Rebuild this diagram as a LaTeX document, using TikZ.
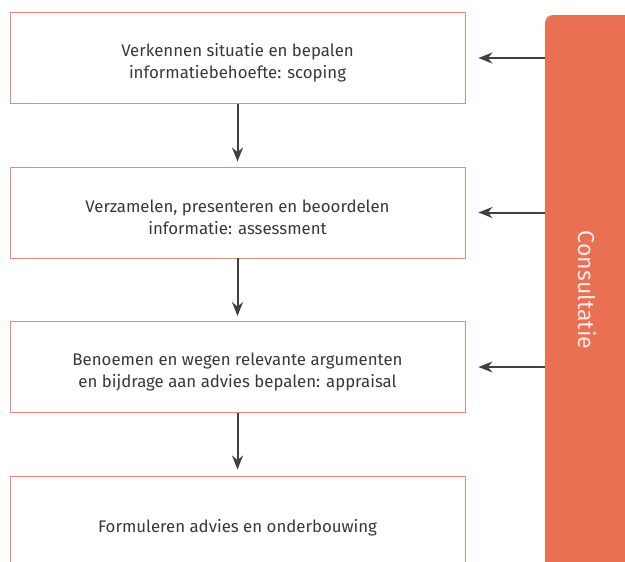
\documentclass[tikz,border=0pt]{standalone}
\usepackage{fontspec}
\setmainfont{Fira Sans}
\usepackage{tikz}
\usetikzlibrary{arrows.meta}
\usetikzlibrary{positioning}
\definecolor{rand}{RGB}{232,140,120}
\definecolor{balkkleur}{RGB}{234,112,84}
\definecolor{pijlkleur}{RGB}{64,64,64}
\tikzset{stap/.style = {draw = rand, line width = 0.9pt, minimum width = 455, minimum height = 91},
  tekst/.style = {align = center, font = \fontsize{16.8}{22}\selectfont, text = black!78, yshift = -5pt},
  pijl/.style = {draw = pijlkleur, line width = 2pt, -{Stealth[length = 14pt, width = 11pt]}}}

\begin{document}
\begin{tikzpicture}[x = 1pt, y = -1pt]
          \useasboundingbox (0, 0) rectangle (625, 562);
          \clip (0, 0) rectangle (625, 562);

          \node [stap] (scoping) at (237.5, 58) {};
          \node [stap] (assess) at (237.5, 212.5) {};
          \node [stap] (apprais) at (237.5, 367) {};
          \node [stap, minimum height = 104] (advies) at (237.5, 528) {};

          \node [tekst] (scoping-t) at (scoping.center) {Verkennen situatie en bepalen\\informatiebehoefte: scoping};
          \node [tekst] (assess-t) at (assess.center) {Verzamelen, presenteren en beoordelen\\informatie: assessment};
          \node [tekst] (apprais-t) at (apprais.center) {Benoemen en wegen relevante argumenten\\en bijdrage aan advies bepalen: appraisal};
          \node [tekst, yshift = 5pt] (advies-t) at (advies.center) {Formuleren advies en onderbouwing};

          \node [fill = balkkleur, rounded corners = 8pt, minimum width = 100, minimum height = 570, inner sep = 0] (consult) at (595, 300) {};
          \node [rotate = -90, text = white!85!balkkleur, font = \fontsize{23}{26}\selectfont] (label) at (587, 290) {Consultatie};

          \draw [pijl, shorten > = 5pt] (scoping) -- (assess);
          \draw [pijl, shorten > = 5pt] (assess) -- (apprais);
          \draw [pijl, shorten > = 6pt] (apprais) -- (advies);

          \draw [pijl] (consult.west |- scoping.east) -- ([xshift = 13pt] scoping.east);
          \draw [pijl] (consult.west |- assess.east) -- ([xshift = 13pt] assess.east);
          \draw [pijl] (consult.west |- apprais.east) -- ([xshift = 13pt] apprais.east);
        \end{tikzpicture}
\end{document}
